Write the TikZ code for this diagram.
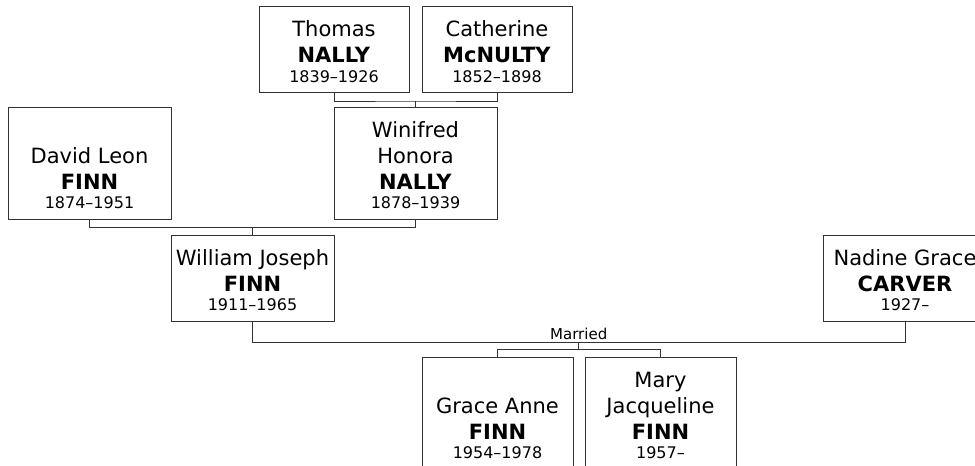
\documentclass[tikz,border=0pt]{standalone}
\usepackage{fontspec}
\setmainfont{DejaVu Sans}
\usetikzlibrary{positioning, calc}
\definecolor{boxline}{RGB}{51, 51, 51}
\newcommand{\lifespan}{\fontsize{16}{19}\selectfont}
\newcommand{\entry}[3]{\rule{0pt}{20pt}#1\\\textbf{#2}\\[-6.5pt]\lifespan #3}

\begin{document}
\begin{tikzpicture}[x=1pt, y=-1pt,
    person/.style={draw=boxline, line width=1pt, fill=white, align=center, inner sep=0pt,
        minimum width=163pt, font=\fontsize{21}{26}\selectfont},
    short/.style={person, minimum height=86pt},
    tall/.style={person, minimum height=112pt},
    link/.style={draw=boxline, line width=1pt}]
        \useasboundingbox (0,0) rectangle (975,466);
        \clip (0,0) rectangle (975,466);

        % Great-grandparents
        \node[short, minimum width=150pt] (thomas) at (334,49.5) {\entry{Thomas}{NALLY}{1839–1926}};
        \node[short, minimum width=150pt] (catherine) at (497,49.5) {\entry{Catherine}{McNULTY}{1852–1898}};

        % Grandparents
        \node[tall] (david) at (89.5,163) {\entry{\\David Leon}{FINN}{1874–1951}};
        \node[tall] (winifred) at (415.5,163) {\entry{Winifred\\Honora}{NALLY}{1878–1939}};

        % Parents
        \node[short] (william) at (252.5,278) {\entry{William Joseph}{FINN}{1911–1965}};
        \node[short, minimum width=164pt] (nadine) at (905,278) {\entry{Nadine Grace}{CARVER}{1927–}};

        % Children
        \node[tall, minimum width=151pt] (grace) at (497.5,413) {\entry{\\Grace Anne}{FINN}{1954–1978}};
        \node[tall, minimum width=151pt] (mary) at (660.5,413) {\entry{Mary\\Jacqueline}{FINN}{1957–}};

        % Couples and descent lines
        \coordinate (nallyjoin) at ($(thomas.south)!0.5!(catherine.south)+(0,8)$);
        \draw[link] (thomas.south) |- (nallyjoin) -| (catherine.south);
        \draw[link] (nallyjoin) -- (winifred.north);

        \coordinate (finnjoin) at ($(david.south)!0.5!(winifred.south)+(0,8)$);
        \draw[link] (david.south) |- (finnjoin) -| (winifred.south);
        \draw[link] (finnjoin) -- (william.north);

        \coordinate (wedding) at ($(william.south)!0.5!(nadine.south)+(0,21)$);
        \draw[link] (william.south) |- (wedding) -| (nadine.south);
        \node[above, inner sep=3pt, font=\fontsize{15}{18}\selectfont] (married) at (wedding) {Married};

        \coordinate (kids) at ($(wedding)+(0,7)$);
        \draw[link] (wedding) -- (kids);
        \draw[link] (grace.north) |- (kids) -| (mary.north);
    \end{tikzpicture}
\end{document}
